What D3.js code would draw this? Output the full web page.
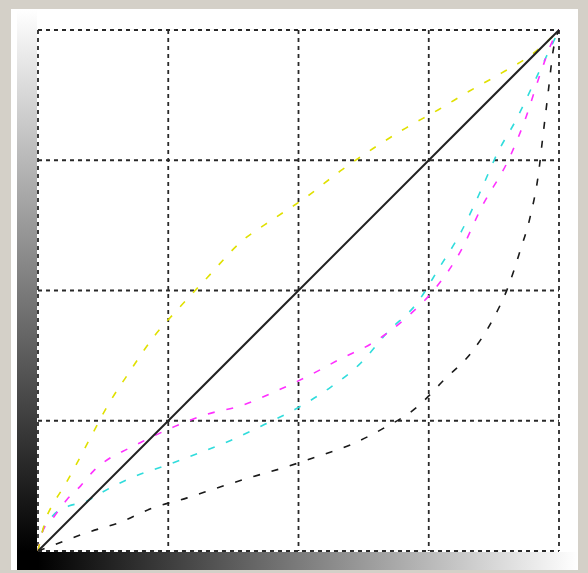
<!DOCTYPE html>
<html>
<head>
<meta charset="utf-8">
<script src="https://cdn.jsdelivr.net/npm/d3@7"></script>
<style>
  html, body { margin: 0; padding: 0; background: #d4d0c8; }
  svg { display: block; }
</style>
</head>
<body>
<svg id="chart" width="588" height="573"></svg>
<script>
// Curves dialog: input level (0-255) -> output level (0-255)
const gridTicks = [0, 63.75, 127.5, 191.25, 255];

const diagonal = [[0, 0], [255, 255]];

const yellowCurve = [[0,0],[2,9],[4,16],[8,24],[13,32],[18,41],[27,58],[34,71],[45,88],[56,104],[70,120],[83,134],[99,151],[116,163],[131,173],[148,186],[164,197],[180,207],[196,216],[211,225],[227,234],[243,244],[255,255]];

const magentaCurve = [[0,0],[2,9],[8,17],[14,25],[21,32],[27,39],[36,46],[44,50],[50,53],[67,61],[83,67],[99,71],[116,78],[131,85],[148,94],[164,102],[180,114],[194,128],[207,147],[217,168],[231,193],[238,210],[246,234],[252,250],[255,255]];

const cyanCurve = [[0,0],[2,9],[7,17],[15,22],[23,24],[30,28],[46,36],[63,42],[79,48],[94,54],[111,62],[127,70],[143,80],[158,92],[171,107],[186,122],[196,138],[207,156],[217,177],[225,195],[234,211],[245,234],[255,255]];

const blackCurve = [[0,0],[8,3],[24,9],[40,14],[56,21],[73,26],[88,31],[104,36],[121,41],[136,46],[153,52],[169,60],[185,70],[199,84],[212,97],[223,114],[230,129],[236,147],[241,164],[245,185],[247,202],[250,227],[252,244],[255,255]];

const seriesNames = ["black", "cyan", "magenta", "yellow"];
const seriesData = [blackCurve, cyanCurve, magentaCurve, yellowCurve];
const seriesColors = ["#1a1a1a", "#30dcdc", "#ff30ff", "#e0e000"];

const svg = d3.select("#chart");
const W = 588, H = 573;

// frame
svg.append("rect").attr("x", 0).attr("y", 0).attr("width", W).attr("height", H).attr("fill", "#d4d0c8");
svg.append("rect").attr("x", 11).attr("y", 9).attr("width", 567).attr("height", 561).attr("fill", "#ffffff");

const x = d3.scaleLinear().domain([0, 255]).range([38, 559]);
const y = d3.scaleLinear().domain([0, 255]).range([551, 30]);

const defs = svg.append("defs");
const gv = defs.append("linearGradient").attr("id", "gv")
  .attr("gradientUnits", "userSpaceOnUse").attr("x1", 0).attr("y1", 10).attr("x2", 0).attr("y2", 551);
gv.append("stop").attr("offset", 0).attr("stop-color", "#ffffff");
gv.append("stop").attr("offset", 1).attr("stop-color", "#000000");
const gh = defs.append("linearGradient").attr("id", "gh")
  .attr("gradientUnits", "userSpaceOnUse").attr("x1", 38).attr("y1", 0).attr("x2", 578).attr("y2", 0);
gh.append("stop").attr("offset", 0).attr("stop-color", "#000000");
gh.append("stop").attr("offset", 1).attr("stop-color", "#ffffff");

// gradient bars
svg.append("rect").attr("x", 17).attr("y", 10).attr("width", 20).attr("height", 541).attr("fill", "url(#gv)");
svg.append("rect").attr("x", 38).attr("y", 552).attr("width", 540).attr("height", 18).attr("fill", "url(#gh)");
svg.append("rect").attr("x", 17).attr("y", 551).attr("width", 21).attr("height", 19).attr("fill", "#000");

// grid
const grid = svg.append("g").attr("stroke", "#2a2a2a").attr("stroke-width", 1.8)
  .attr("stroke-dasharray", "4,4").attr("fill", "none");
grid.selectAll("line.v").data(gridTicks).join("line").attr("class", "v")
  .attr("x1", d => x(d)).attr("x2", d => x(d)).attr("y1", y(255)).attr("y2", y(0));
grid.selectAll("line.h").data(gridTicks).join("line").attr("class", "h")
  .attr("y1", d => y(d)).attr("y2", d => y(d)).attr("x1", x(0)).attr("x2", x(255));

const line = d3.line().x(d => x(d[0])).y(d => y(d[1])).curve(d3.curveMonotoneX);

// curves
svg.append("g").selectAll("path").data(seriesData).join("path")
  .attr("d", d => line(d))
  .attr("fill", "none")
  .attr("stroke", (d, i) => seriesColors[i])
  .attr("stroke-width", 1.6)
  .attr("stroke-dasharray", "7,12");

// diagonal
svg.append("path").attr("d", d3.line().x(d => x(d[0])).y(d => y(d[1]))(diagonal))
  .attr("fill", "none").attr("stroke", "#222").attr("stroke-width", 2);
</script>
</body>
</html>
